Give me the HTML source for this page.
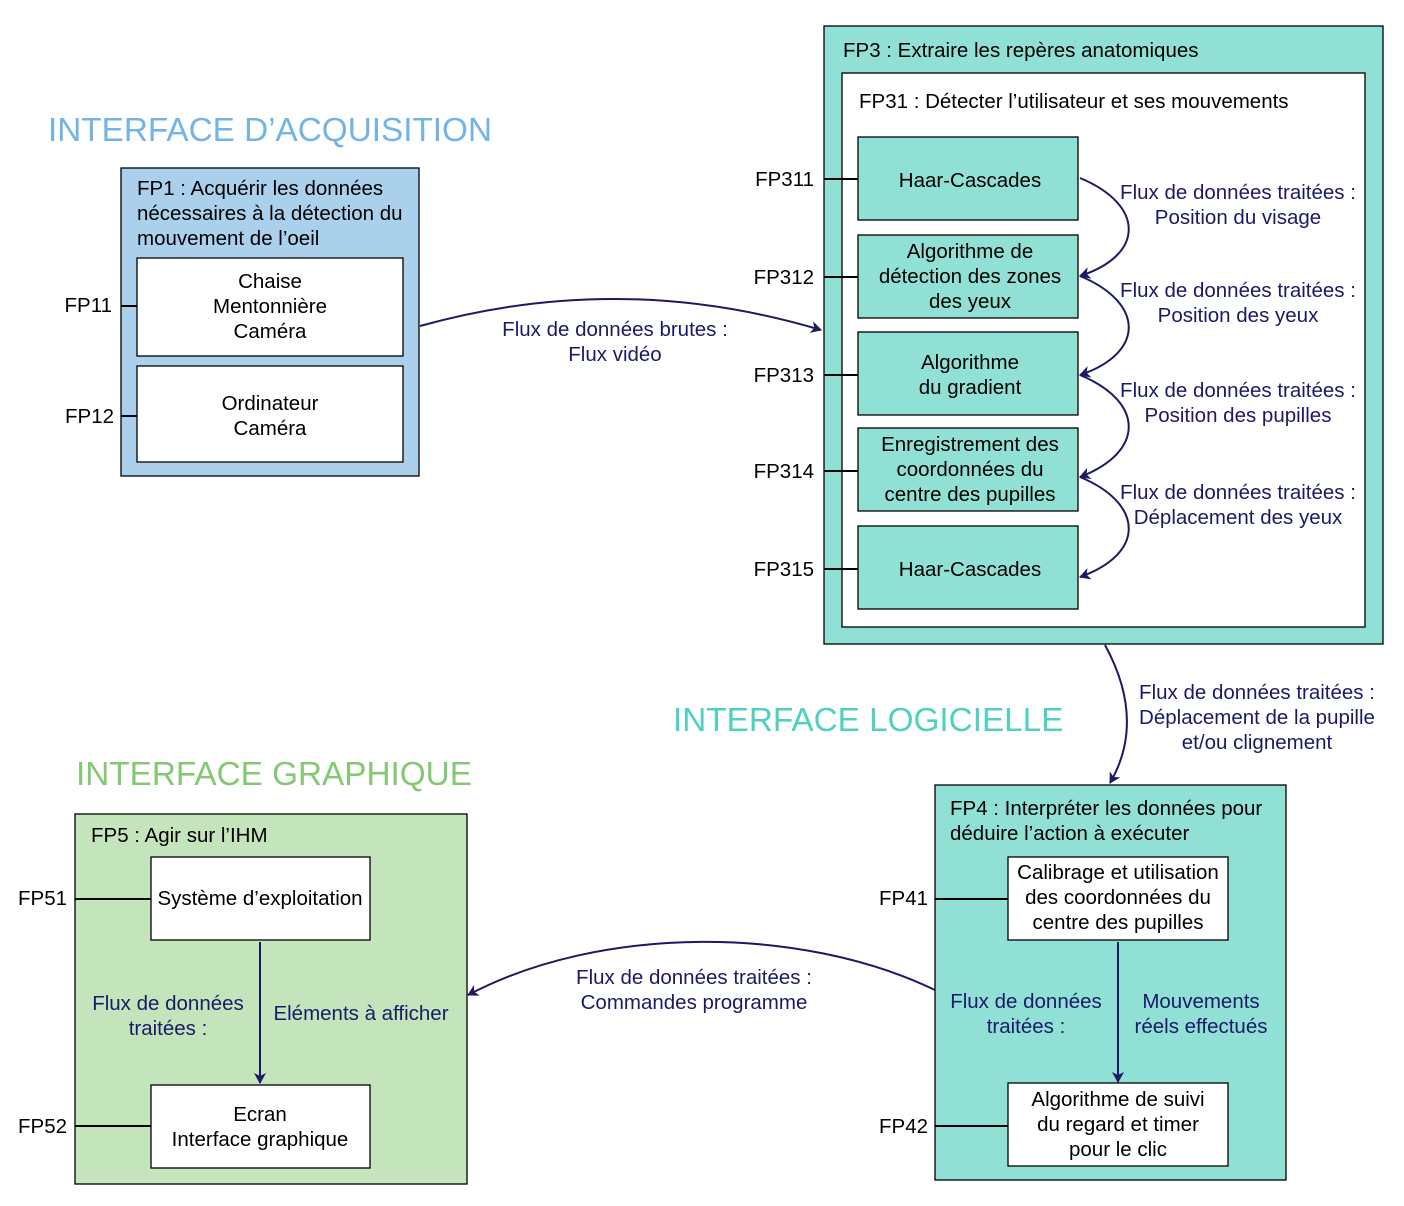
<!DOCTYPE html>
<html><head><meta charset="utf-8"><style>
body{margin:0;background:#fff}
svg{display:block;font-family:"Liberation Sans",sans-serif}
</style></head><body>
<svg width="1404" height="1206" viewBox="0 0 1404 1206" xmlns="http://www.w3.org/2000/svg">
<defs><marker id="a" markerWidth="12" markerHeight="12" refX="10" refY="6" orient="auto" markerUnits="userSpaceOnUse"><path d="M0,0 L11,6 L0,12 L3,6 Z" fill="#1a1a66"/></marker></defs>
<g font-size="33.3">
<text x="48" y="141" fill="#72b4e6">INTERFACE D’ACQUISITION</text>
<text x="673" y="731" fill="#4fd0c0">INTERFACE LOGICIELLE</text>
<text x="76" y="785" fill="#84c874">INTERFACE GRAPHIQUE</text>
</g>
<g stroke="#000" stroke-width="1.3">
<rect x="121" y="168" width="298" height="308" fill="#abd0ec"/>
<rect x="137" y="258" width="266" height="98" fill="#fff"/>
<rect x="137" y="366" width="266" height="96" fill="#fff"/>
<rect x="824" y="26" width="559" height="618" fill="#91e0d6"/>
<rect x="842" y="73" width="523" height="554" fill="#fff"/>
<rect x="858" y="137" width="220" height="83" fill="#91e0d6"/>
<rect x="858" y="235" width="220" height="83" fill="#91e0d6"/>
<rect x="858" y="332" width="220" height="83" fill="#91e0d6"/>
<rect x="858" y="428" width="220" height="83" fill="#91e0d6"/>
<rect x="858" y="526" width="220" height="83" fill="#91e0d6"/>
<rect x="935" y="785" width="351" height="395" fill="#91e0d6"/>
<rect x="1008" y="857" width="220" height="83" fill="#fff"/>
<rect x="1008" y="1083" width="220" height="83" fill="#fff"/>
<rect x="75" y="814" width="392" height="370" fill="#c4e4bc"/>
<rect x="151" y="857" width="219" height="83" fill="#fff"/>
<rect x="151" y="1085" width="219" height="83" fill="#fff"/>
</g>
<g stroke="#000" stroke-width="2">
<line x1="121" y1="306" x2="137" y2="306"/><line x1="121" y1="416" x2="137" y2="416"/>
<line x1="824" y1="179" x2="858" y2="179"/><line x1="824" y1="277" x2="858" y2="277"/>
<line x1="824" y1="375" x2="858" y2="375"/><line x1="824" y1="471" x2="858" y2="471"/>
<line x1="824" y1="569" x2="858" y2="569"/>
<line x1="935" y1="899" x2="1008" y2="899"/><line x1="935" y1="1126" x2="1008" y2="1126"/>
<line x1="75" y1="899" x2="151" y2="899"/><line x1="75" y1="1126" x2="151" y2="1126"/>
</g>
<g fill="none" stroke="#1a1a66" stroke-width="2" marker-end="url(#a)">
<path d="M420,326 Q620,270 821,330"/>
<path d="M1080,178 C1145,205 1145,255 1080,276"/>
<path d="M1080,276 C1145,303 1145,353 1080,375"/>
<path d="M1080,375 C1145,402 1145,452 1080,477"/>
<path d="M1080,477 C1145,504 1145,554 1080,577"/>
<path d="M1105,645 C1135,700 1132,745 1110,783"/>
<path d="M935,990 C800,925 600,925 468,995"/>
<path d="M260,942 L260,1083"/>
<path d="M1118,942 L1118,1082"/>
</g>
<g font-size="20.5" fill="#000">
<text x="137" y="195">FP1 : Acquérir les données</text>
<text x="137" y="220">nécessaires à la détection du</text>
<text x="137" y="245">mouvement de l’oeil</text>
<g text-anchor="middle">
<text x="270" y="288">Chaise</text><text x="270" y="313">Mentonnière</text><text x="270" y="338">Caméra</text>
<text x="270" y="410">Ordinateur</text><text x="270" y="435">Caméra</text>
<text x="970" y="187">Haar-Cascades</text>
<text x="970" y="258">Algorithme de</text><text x="970" y="283">détection des zones</text><text x="970" y="308">des yeux</text>
<text x="970" y="369">Algorithme</text><text x="970" y="394">du gradient</text>
<text x="970" y="451">Enregistrement des</text><text x="970" y="476">coordonnées du</text><text x="970" y="501">centre des pupilles</text>
<text x="970" y="576">Haar-Cascades</text>
<text x="1118" y="879">Calibrage et utilisation</text><text x="1118" y="904">des coordonnées du</text><text x="1118" y="929">centre des pupilles</text>
<text x="1118" y="1106">Algorithme de suivi</text><text x="1118" y="1131">du regard et timer</text><text x="1118" y="1156">pour le clic</text>
<text x="260" y="905">Système d’exploitation</text>
<text x="260" y="1121">Ecran</text><text x="260" y="1146">Interface graphique</text>
</g>
<g text-anchor="end">
<text x="112" y="312">FP11</text><text x="114" y="423">FP12</text>
<text x="814" y="186">FP311</text><text x="814" y="284">FP312</text><text x="814" y="382">FP313</text>
<text x="814" y="478">FP314</text><text x="814" y="576">FP315</text>
<text x="928" y="905">FP41</text><text x="928" y="1133">FP42</text>
<text x="67" y="905">FP51</text><text x="67" y="1133">FP52</text>
</g>
<text x="843" y="57">FP3 : Extraire les repères anatomiques</text>
<text x="859" y="108">FP31 : Détecter l’utilisateur et ses mouvements</text>
<text x="950" y="815">FP4 : Interpréter les données pour</text>
<text x="950" y="840">déduire l’action à exécuter</text>
<text x="91" y="842">FP5 : Agir sur l’IHM</text>
</g>
<g font-size="20.5" fill="#1a1a66" text-anchor="middle">
<text x="615" y="336">Flux de données brutes :</text><text x="615" y="361">Flux vidéo</text>
<text x="1238" y="199">Flux de données traitées :</text><text x="1238" y="224">Position du visage</text>
<text x="1238" y="297">Flux de données traitées :</text><text x="1238" y="322">Position des yeux</text>
<text x="1238" y="397">Flux de données traitées :</text><text x="1238" y="422">Position des pupilles</text>
<text x="1238" y="499">Flux de données traitées :</text><text x="1238" y="524">Déplacement des yeux</text>
<text x="1257" y="699">Flux de données traitées :</text><text x="1257" y="724">Déplacement de la pupille</text><text x="1257" y="749">et/ou clignement</text>
<text x="694" y="984">Flux de données traitées :</text><text x="694" y="1009">Commandes programme</text>
<text x="1026" y="1008">Flux de données</text><text x="1026" y="1033">traitées :</text>
<text x="1201" y="1008">Mouvements</text><text x="1201" y="1033">réels effectués</text>
<text x="168" y="1010">Flux de données</text><text x="168" y="1035">traitées :</text>
<text x="361" y="1020">Eléments à afficher</text>
</g>
</svg>
</body></html>
